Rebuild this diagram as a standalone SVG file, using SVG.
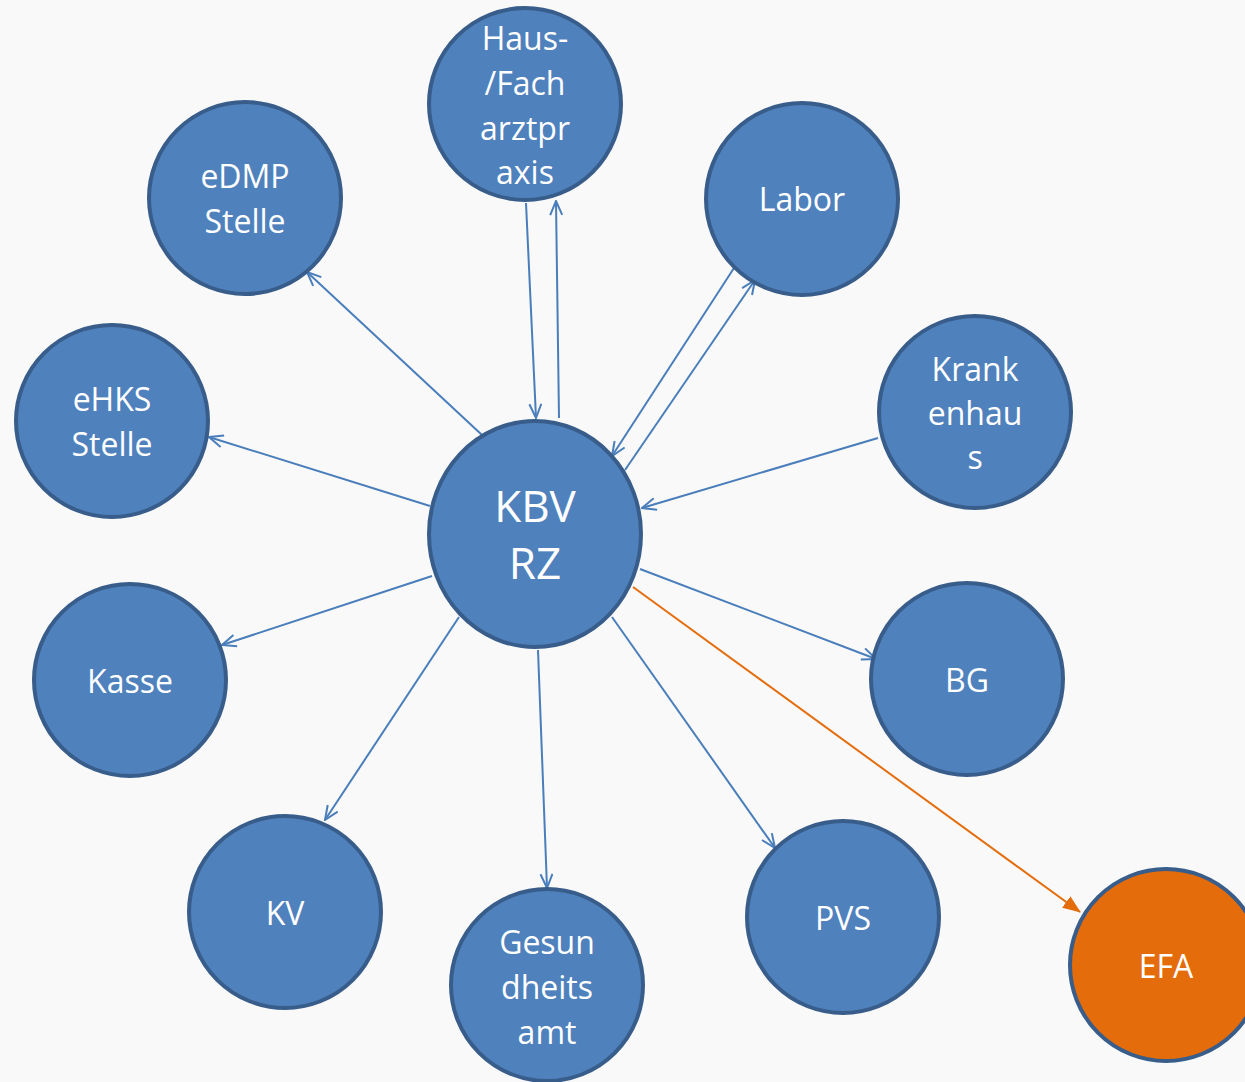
<svg xmlns="http://www.w3.org/2000/svg" width="1245" height="1082" viewBox="0 0 1245 1082">
<defs>
<style>
.node circle, .node ellipse{fill:#4F81BD;stroke:#385D8A;stroke-width:4}
.node.orange circle{fill:#E46C0A}
.lbl{font-family:"Open Sans","DejaVu Sans",sans-serif;font-size:32px;fill:#fff;text-anchor:middle}
.big{font-size:44px}
.conn{stroke:#4A7EBB;stroke-width:2;fill:none;marker-end:url(#open)}
.conn.o{stroke:#E46C0A;marker-end:url(#tri)}
</style>
<marker id="open" viewBox="0 0 16 14" refX="15" refY="7" markerWidth="16" markerHeight="14" markerUnits="userSpaceOnUse" orient="auto">
<path d="M1,1 L15,7 L1,13" fill="none" stroke="#4A7EBB" stroke-width="2"/>
</marker>
<marker id="tri" viewBox="0 0 18 14" refX="17" refY="7" markerWidth="18" markerHeight="14" markerUnits="userSpaceOnUse" orient="auto">
<path d="M0,0 L18,7 L0,14 Z" fill="#E46C0A"/>
</marker>
</defs>
<rect width="1245" height="1082" fill="#F9F9F9"/>
<g id="connectors">
<line class="conn" x1="482" y1="435" x2="307" y2="272"/>
<line class="conn" x1="526" y1="203" x2="536" y2="418"/>
<line class="conn" x1="559" y1="418" x2="556" y2="201"/>
<line class="conn" x1="734" y1="268" x2="612" y2="456"/>
<line class="conn" x1="625" y1="470" x2="755" y2="280"/>
<line class="conn" x1="430" y1="506" x2="209" y2="437"/>
<line class="conn" x1="878" y1="438" x2="642" y2="508"/>
<line class="conn" x1="432" y1="576" x2="222" y2="645"/>
<line class="conn" x1="640" y1="569" x2="876" y2="659"/>
<line class="conn" x1="459" y1="617" x2="325" y2="820"/>
<line class="conn" x1="538" y1="650" x2="547" y2="888"/>
<line class="conn" x1="612" y1="617" x2="775" y2="848"/>
<line class="conn o" x1="633" y1="587" x2="1080" y2="912"/>
</g>
<g id="haus" class="node"><circle cx="525" cy="104" r="96"/>
<text class="lbl" x="525" y="50">Haus-</text><text class="lbl" x="525" y="95">/Fach</text><text class="lbl" x="525" y="140">arztpr</text><text class="lbl" x="525" y="184">axis</text></g>
<g id="edmp" class="node"><circle cx="245" cy="198" r="96"/>
<text class="lbl" x="245" y="188">eDMP</text><text class="lbl" x="245" y="233">Stelle</text></g>
<g id="labor" class="node"><circle cx="802" cy="199" r="96"/>
<text class="lbl" x="802" y="211">Labor</text></g>
<g id="ehks" class="node"><circle cx="112" cy="421" r="96"/>
<text class="lbl" x="112" y="411">eHKS</text><text class="lbl" x="112" y="456">Stelle</text></g>
<g id="krankenhaus" class="node"><circle cx="975" cy="412" r="96"/>
<text class="lbl" x="975" y="381">Krank</text><text class="lbl" x="975" y="425">enhau</text><text class="lbl" x="975" y="469">s</text></g>
<g id="kbv" class="node"><ellipse cx="535" cy="534" rx="106" ry="113"/>
<text class="lbl big" x="535" y="522">KBV</text><text class="lbl big" x="535" y="579">RZ</text></g>
<g id="kasse" class="node"><circle cx="130" cy="680" r="96"/>
<text class="lbl" x="130" y="693">Kasse</text></g>
<g id="bg" class="node"><circle cx="967" cy="679" r="96"/>
<text class="lbl" x="967" y="692">BG</text></g>
<g id="kv" class="node"><circle cx="285" cy="912" r="96"/>
<text class="lbl" x="285" y="925">KV</text></g>
<g id="gesundheitsamt" class="node"><circle cx="547" cy="985" r="96"/>
<text class="lbl" x="547" y="954">Gesun</text><text class="lbl" x="547" y="999">dheits</text><text class="lbl" x="547" y="1044">amt</text></g>
<g id="pvs" class="node"><circle cx="843" cy="917" r="96"/>
<text class="lbl" x="843" y="930">PVS</text></g>
<g id="efa" class="node orange"><circle cx="1166" cy="965" r="96"/>
<text class="lbl" x="1166" y="978">EFA</text></g>
</svg>
